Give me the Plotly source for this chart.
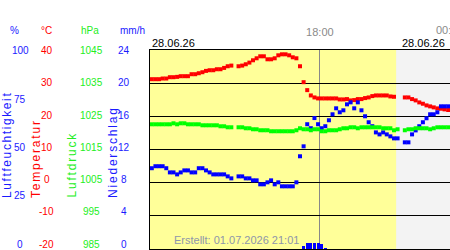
import pandas as pd
import plotly.graph_objects as go

# ---------------- data ----------------
START = "2026-06-28 10:15"
N_POINTS = 83
times = pd.date_range(START, periods=N_POINTS, freq="10min")

temperature = [
    31.2, 31.2, 31.2, 31.4, 31.4, 31.8, 31.8, 31.9, 32.1, 32.1,
    32.1, 32.7, 32.7, 33.0, 33.3, 33.7, 33.9, 33.9, 34.2, 34.2,
    34.6, 35.1, 35.3, None, 35.1, 35.3, 35.7, 36.2, 36.9, 37.5,
    38.1, 38.1, 37.2, 37.2, 37.5, 38.4, 38.7, 38.7, 38.4, 37.8,
    37.5, 35.1, 30.3, 27.9, 26.3, 25.7, 25.4, 25.4, 25.4, 25.4,
    25.4, 25.4, 25.1, 25.1, 25.2, 24.8, 24.9, 25.2, 25.2, 25.5,
    25.7, 26.1, 26.3, 26.3, 26.3, 26.3, 26.0, 25.9, None, None,
    25.7, 25.7, 25.2, 24.8, 24.2, 23.8, 23.3, 23.0, 22.7, 22.4,
    22.3, 22.1, 21.9,
]

humidity = [
    40.6, 41.6, 41.6, 41.6, 40.6, 38.5, 38.5, 37.5, 38.5, 39.5,
    39.5, 38.5, 38.5, 40.6, 40.6, 39.5, 38.5, 37.5, 37.5, 37.5,
    37.5, 36.5, 35.5, None, 36.5, 36.5, 35.5, 35.5, 34.5, 34.5,
    32.5, 32.5, 33.5, 34.5, 32.5, 33.5, 31.5, 31.5, 31.5, 31.5,
    33.5, 46.6, 51.6, 62.7, 60.7, 65.8, 62.7, 60.7, 61.7, 64.7,
    67.7, 70.7, 68.7, 69.7, 72.7, 73.7, 70.7, 73.7, 69.7, 66.7,
    63.7, 61.7, 58.6, 57.6, 58.6, 57.6, 56.6, 55.6, 55.6, None,
    53.6, 53.6, 57.6, 59.6, 61.7, 63.7, 65.7, 67.7, 67.7, 68.7,
    71.7, 71.7, 71.7,
]

pressure = [
    1022.6, 1022.6, 1022.6, 1022.6, 1022.6, 1022.6, 1022.9, 1022.6, 1022.9, 1022.9,
    1022.6, 1022.6, 1022.6, 1022.6, 1022.3, 1022.3, 1022.3, 1022.3, 1022.3, 1022.0,
    1022.0, 1021.7, 1021.7, None, 1021.7, 1021.7, 1021.4, 1021.4, 1021.1, 1021.1,
    1020.8, 1020.8, 1020.8, 1020.5, 1020.5, 1020.5, 1020.5, 1020.5, 1020.5, 1020.5,
    1020.8, 1021.4, 1021.1, 1021.1, 1020.8, 1021.1, 1021.1, 1020.5, 1020.5, 1020.8,
    1020.8, 1020.8, 1021.1, 1021.4, 1021.4, 1021.7, 1021.7, 1021.4, 1021.7, 1021.7,
    1021.7, 1021.7, 1021.7, 1021.7, 1021.4, 1021.4, 1021.4, 1020.8, 1021.1, None,
    1020.8, 1021.1, 1021.1, 1021.4, 1021.4, 1021.4, 1021.4, 1021.1, 1021.4, 1021.7,
    1021.7, 1021.7, 1021.7,
]

precipitation = [0.0] * 42 + [0.35, 0.7, 0.7, 0.7, 0.7, 0.6, 0.1] + [0.0] * 34

X_RANGE = ["2026-06-28 10:10", "2026-06-29 00:00"]
DAYLIGHT = ["2026-06-28 10:10", "2026-06-28 21:31"]
TIME_TICKS = ["2026-06-28 18:00", "2026-06-29 00:00"]
TIME_LABELS = ["18:00", "00:00"]

hum_ticks = [100, 75, 50, 25, 0]
temp_ticks = [40, 30, 20, 10, 0, -10, -20]
pres_ticks = [1045, 1035, 1025, 1015, 1005, 995, 985]
prec_ticks = [24, 20, 16, 12, 8, 4, 0]

DATE_LEFT = "28.06.26"
DATE_RIGHT = "28.06.26"
CREATED = "Erstellt: 01.07.2026 21:01"

# ---------------- styles ----------------
W, H = 450, 250
FONT = "Liberation Sans, Arial, sans-serif"
BLUE = "#0000ff"
RED = "#ff0000"
GREEN = "#00ff00"
TXT_BLUE = "#1a1aff"
TXT_GREEN = "#22ee22"
TIME_GRAY = "#8a8a8a"

PLOT_LEFT, PLOT_RIGHT, PLOT_TOP, PLOT_BOTTOM = 150, 450, 50, 249


def px(x):
    return x / W


def py(y):
    return 1 - y / H


fig = go.Figure()

bar_width_ms = 8 * 60 * 1000
fig.add_trace(go.Bar(x=times, y=precipitation, yaxis="y4", marker_color=BLUE,
                     marker_line_width=0, width=bar_width_ms, showlegend=False))
fig.add_trace(go.Scatter(x=times, y=pressure, yaxis="y3", mode="markers",
                         marker=dict(symbol="square", size=4, color=GREEN),
                         showlegend=False))
fig.add_trace(go.Scatter(x=times, y=humidity, yaxis="y2", mode="markers",
                         marker=dict(symbol="square", size=4, color=BLUE),
                         showlegend=False))
fig.add_trace(go.Scatter(x=times, y=temperature, yaxis="y", mode="markers",
                         marker=dict(symbol="square", size=4, color=RED),
                         showlegend=False))

annotations = []

# tick label columns (label band spans y=50.7 .. 244)
LBL_TOP, LBL_BOT = 50.7, 244.0


def add_column(ticks, xc, color):
    hi, lo = max(ticks), min(ticks)
    for v in ticks:
        yy = LBL_TOP + (hi - v) / (hi - lo) * (LBL_BOT - LBL_TOP)
        annotations.append(dict(x=px(xc), y=py(yy), xref="paper", yref="paper",
                                text=str(v), showarrow=False, xanchor="center",
                                yanchor="middle", font=dict(family=FONT, size=10, color=color)))


add_column(hum_ticks, 20, TXT_BLUE)
add_column(temp_ticks, 46.5, RED)
add_column(pres_ticks, 91, TXT_GREEN)
add_column(prec_ticks, 124, TXT_BLUE)

# unit headers
for txt, xc, col in [("%", 14, TXT_BLUE), ("°C", 46.7, RED), ("hPa", 90, TXT_GREEN), ("mm/h", 132.5, TXT_BLUE)]:
    annotations.append(dict(x=px(xc), y=py(30), xref="paper", yref="paper", text=txt,
                            showarrow=False, xanchor="center", yanchor="middle",
                            font=dict(family=FONT, size=10, color=col)))

# rotated axis titles
for txt, xc, col, ls in [("Luftfeuchtigkeit", 7, TXT_BLUE, 1.6), ("Temperatur", 35.5, RED, 1.8),
                         ("Luftdruck", 71.5, TXT_GREEN, 1.8), ("Niederschlag", 113, TXT_BLUE, 1.8)]:
    annotations.append(dict(x=px(xc), y=py(199), xref="paper", yref="paper",
                            text=f'<span style="letter-spacing:{ls}px">{txt}</span>',
                            showarrow=False, textangle=-90, xanchor="center", yanchor="bottom",
                            borderpad=0,
                            font=dict(family=FONT, size=12, color=col)))

# second time label at the right edge (cut by the page edge, as in the original)
annotations.append(dict(x=TIME_TICKS[1], xref="x", y=py(30), yref="paper", text=TIME_LABELS[1],
                        showarrow=False, xanchor="center", yanchor="middle",
                        font=dict(family=FONT, size=11, color=TIME_GRAY)))

# dates
annotations.append(dict(x=px(150), y=py(43), xref="paper", yref="paper", text=DATE_LEFT,
                        showarrow=False, xanchor="left", yanchor="middle",
                        font=dict(family=FONT, size=11, color="#000000")))
annotations.append(dict(x=px(447), y=py(43), xref="paper", yref="paper", text=DATE_RIGHT,
                        showarrow=False, xanchor="right", yanchor="middle",
                        font=dict(family=FONT, size=11, color="#000000")))
annotations.append(dict(x=px(236), y=py(240), xref="paper", yref="paper", text=CREATED,
                        showarrow=False, xanchor="center", yanchor="middle",
                        font=dict(family=FONT, size=11, color="#8e96aa")))

shapes = [dict(type="rect", xref="x", yref="paper", x0=DAYLIGHT[0], x1=DAYLIGHT[1],
               y0=py(PLOT_BOTTOM), y1=py(PLOT_TOP), fillcolor="#ffff99", line_width=0, layer="below")]

fig.update_layout(
    width=W, height=H, margin=dict(l=0, r=0, t=0, b=0),
    paper_bgcolor="#ffffff", plot_bgcolor="#f3f3f3",
    showlegend=False, bargap=0,
    annotations=annotations, shapes=shapes,
    xaxis=dict(domain=[px(PLOT_LEFT), px(PLOT_RIGHT)], type="date", range=X_RANGE,
               side="top", tickvals=TIME_TICKS, ticktext=TIME_LABELS, ticks="",
               tickfont=dict(family=FONT, size=11, color=TIME_GRAY), ticklabelstandoff=9,
               showgrid=True, gridcolor="#888888", gridwidth=1, zeroline=False,
               showline=True, mirror=True, linecolor="#000000", linewidth=1),
    yaxis=dict(domain=[py(PLOT_BOTTOM), py(PLOT_TOP)], range=[-20, 40],
               tickvals=temp_ticks, showticklabels=False, ticks="",
               showgrid=True, gridcolor="#000000", gridwidth=1, zeroline=False,
               showline=True, mirror=True, linecolor="#000000", linewidth=1),
    yaxis2=dict(overlaying="y", range=[0, 100], visible=False),
    yaxis3=dict(overlaying="y", range=[985, 1045], visible=False),
    yaxis4=dict(overlaying="y", range=[0, 24], visible=False),
)

fig.write_html("out.html")
